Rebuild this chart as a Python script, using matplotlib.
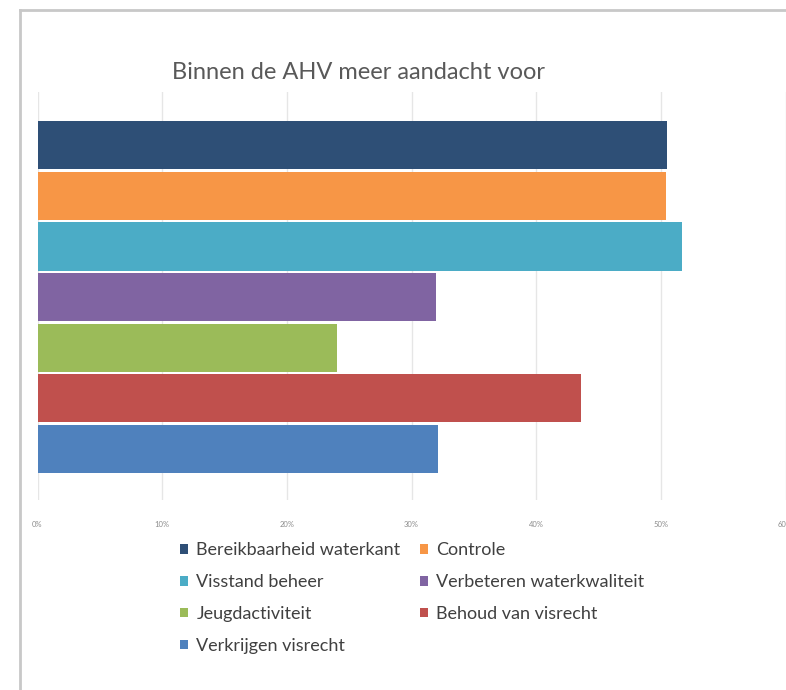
import matplotlib
matplotlib.use("Agg")
import matplotlib.pyplot as plt
from matplotlib.lines import Line2D

# Gegevens (percentages)
categorieen = [
    "Bereikbaarheid waterkant",
    "Controle",
    "Visstand beheer",
    "Verbeteren waterkwaliteit",
    "Jeugdactiviteit",
    "Behoud van visrecht",
    "Verkrijgen visrecht",
]
percentages = [50.5, 50.4, 51.7, 32.0, 24.0, 43.6, 32.1]
kleuren = ["#2E4F76", "#F79646", "#4BACC6", "#8064A2", "#9BBB59", "#C0504D", "#4F81BD"]
xticks = [0, 10, 20, 30, 40, 50, 60]
xtick_labels = ["0%", "10%", "20%", "30%", "40%", "50%", "60%"]
titel = "Binnen de AHV meer aandacht voor"

W, H = 786, 690
fig = plt.figure(figsize=(W / 100, H / 100), dpi=100)
fig.patch.set_facecolor("white")

# plotgebied in pixels: x 37.5..785.5, y 92..500
ax = fig.add_axes([37.5 / W, 1 - 500 / H, 748 / W, 408 / H])
ax.set_facecolor("white")

handles = []
for i, (naam, waarde, kleur) in enumerate(zip(categorieen, percentages, kleuren)):
    b = ax.barh(i, waarde, height=0.95, color=kleur, label=naam, zorder=3)
    handles.append(b)

ax.set_xlim(0, 60)
ax.set_ylim(7.01, -1.053)
ax.set_xticks(xticks)
ax.set_xticklabels(xtick_labels, fontsize=5.5, color="#8C8C8C", family="Lato")
ax.set_yticks([])
ax.tick_params(axis="x", length=0, pad=15)
ax.grid(axis="x", color="#E6E6E6", linewidth=1, zorder=0)
for s in ax.spines.values():
    s.set_visible(False)

fig.text(172 / W, 1 - 79 / H, titel, fontsize=17, color="#595959",
         family="Lato", ha="left", va="baseline")

# legenda rij-gewijs: matplotlib vult kolom voor kolom
volgorde = [0, 2, 4, 6, 1, 3, 5]
leg = fig.legend([handles[i] for i in volgorde], [categorieen[i] for i in volgorde],
                 ncol=2, loc="upper left", bbox_to_anchor=(164 / W, 1 - 526 / H),
                 frameon=False, handlelength=0.45, handleheight=0.45,
                 handletextpad=0.45, columnspacing=1.08, labelspacing=0.88,
                 prop={"family": "Lato", "size": 13})
for t in leg.get_texts():
    t.set_color("#404040")

# kader rond de grafiek (links en boven)
fig.add_artist(Line2D([20 / W, 20 / W], [0, 1 - 10 / H], transform=fig.transFigure,
                      color="#C8C8C8", linewidth=2))
fig.add_artist(Line2D([20 / W, 1], [1 - 10 / H, 1 - 10 / H], transform=fig.transFigure,
                      color="#C8C8C8", linewidth=2))

fig.savefig("out.png", dpi=100, facecolor="white")
